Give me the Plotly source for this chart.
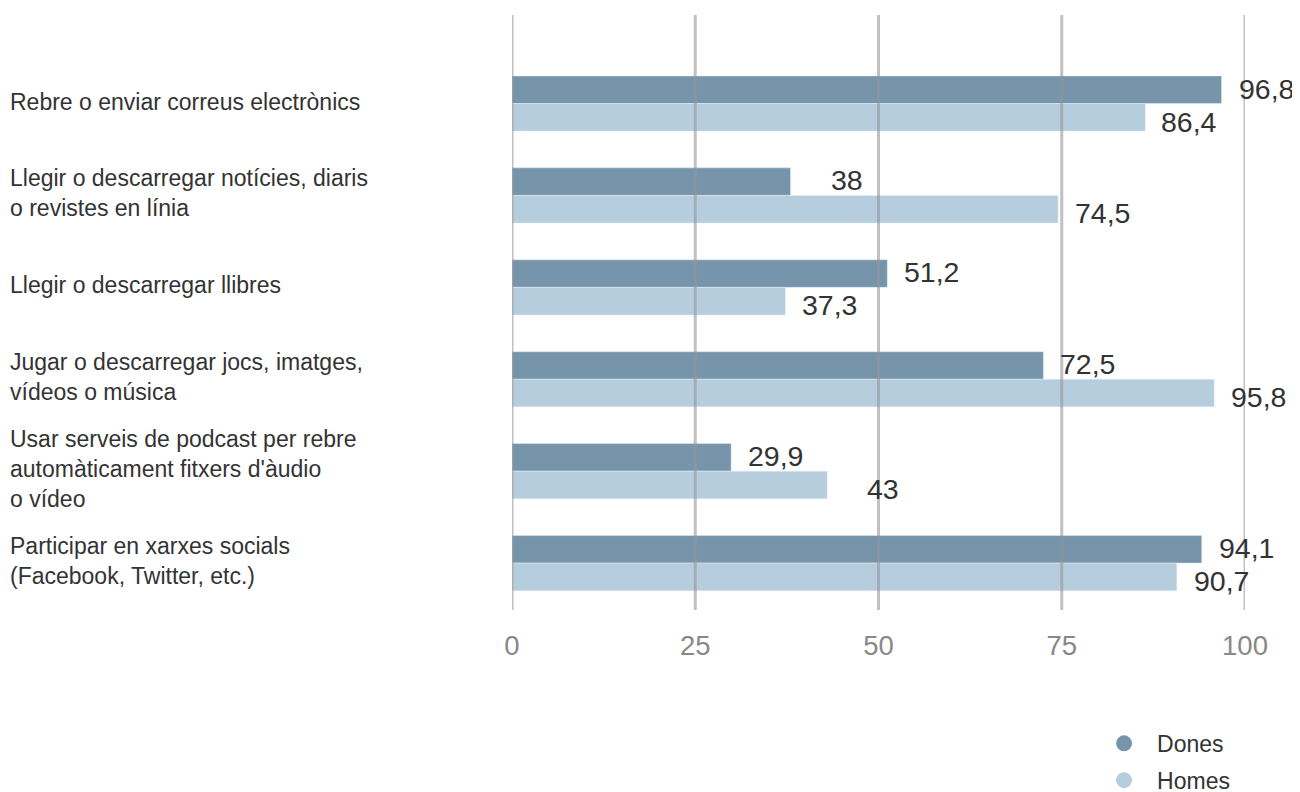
import plotly.graph_objects as go

categories = [
    "Rebre o enviar correus electrònics",
    "Llegir o descarregar notícies, diaris<br>o revistes en línia",
    "Llegir o descarregar llibres",
    "Jugar o descarregar jocs, imatges,<br>vídeos o música",
    "Usar serveis de podcast per rebre<br>automàticament fitxers d'àudio<br>o vídeo",
    "Participar en xarxes socials<br>(Facebook, Twitter, etc.)",
]
cat_keys = ["c%d" % i for i in range(len(categories))]
dones = [96.8, 38, 51.2, 72.5, 29.9, 94.1]
homes = [86.4, 74.5, 37.3, 95.8, 43, 90.7]
x_ticks = [0, 25, 50, 75, 100]

C_DONES = "#7795aa"
C_HOMES = "#b5cddc"
FONT = "Liberation Sans"

def fmt(v):
    s = ("%.1f" % v).rstrip("0").rstrip(".")
    return s.replace(".", ",")

fig = go.Figure()
fig.add_trace(go.Bar(y=cat_keys, x=dones, orientation="h", marker_color=C_DONES,
                     name="Dones", showlegend=False, hoverinfo="x"))
fig.add_trace(go.Bar(y=cat_keys, x=homes, orientation="h", marker_color=C_HOMES,
                     name="Homes", showlegend=False, hoverinfo="x"))
# legend entries with round markers
fig.add_trace(go.Scatter(x=[None], y=[None], mode="markers", name="Dones",
                         marker=dict(symbol="circle", size=18, color=C_DONES),
                         legendgroup="a"))
fig.add_trace(go.Scatter(x=[None], y=[None], mode="markers", name="Homes",
                         marker=dict(symbol="circle", size=18, color=C_HOMES),
                         legendgroup="b"))

annotations = []
for k, d, h in zip(cat_keys, dones, homes):
    annotations.append(dict(x=d, y=k, xref="x", yref="y", text=fmt(d), showarrow=False,
                            xanchor="right", xshift=74, yshift=15,
                            font=dict(family=FONT, size=28.5, color="#333333")))
    annotations.append(dict(x=h, y=k, xref="x", yref="y", text=fmt(h), showarrow=False,
                            xanchor="right", xshift=74, yshift=-18,
                            font=dict(family=FONT, size=28.5, color="#333333")))
for k, label in zip(cat_keys, categories):
    annotations.append(dict(x=0, y=k, xref="paper", yref="y", text=label, showarrow=False,
                            xanchor="left", align="left", xshift=-504, yshift=2,
                            font=dict(family=FONT, size=23, color="#333333")))

shapes = []
for t in x_ticks:
    shapes.append(dict(type="line", x0=t, x1=t, xref="x", y0=0, y1=1, yref="paper",
                       line=dict(color="rgba(150,150,158,0.6)", width=3), layer="above"))

fig.update_layout(
    width=1292, height=812,
    margin=dict(l=504, r=55, t=7, b=210),
    paper_bgcolor="white", plot_bgcolor="white",
    barmode="group", bargap=0.4, bargroupgap=0,
    font=dict(family=FONT, color="#333333"),
    xaxis=dict(range=[0, 100], tickvals=x_ticks, ticktext=[str(t) for t in x_ticks],
               showgrid=False, zeroline=False, showline=False, ticks="",
               ticklabelstandoff=16,
               tickfont=dict(family=FONT, size=27.5, color="#888888")),
    yaxis=dict(categoryorder="array", categoryarray=cat_keys,
               range=[5.51, -0.963], showticklabels=False, showgrid=False,
               zeroline=False, showline=False, ticks=""),
    legend=dict(x=0.790, y=-0.188, xanchor="left", yanchor="top",
                font=dict(family=FONT, size=23, color="#333333"),
                tracegroupgap=4, itemwidth=56),
    annotations=annotations, shapes=shapes,
)

fig.write_html("out.html")
